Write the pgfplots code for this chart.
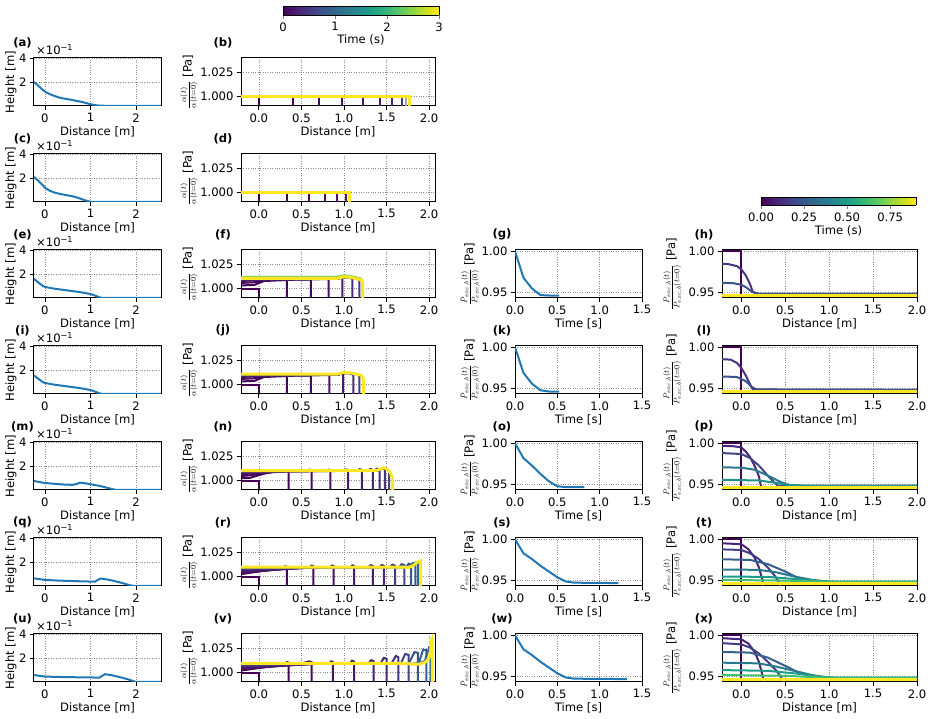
\documentclass[border=0pt]{standalone}
\usepackage{fontspec}
\setmainfont{DejaVu Sans}
\usepackage{pgfplots}
\pgfplotsset{compat=1.18}
\newcommand{\fs}{\fontsize{11.6}{13.9}\selectfont}
\definecolor{v00}{HTML}{440154}
\definecolor{v02}{HTML}{450559}
\definecolor{v04}{HTML}{46085C}
\definecolor{v05}{HTML}{471063}
\definecolor{v06}{HTML}{481769}
\definecolor{v08}{HTML}{481D6F}
\definecolor{v10}{HTML}{482475}
\definecolor{v12}{HTML}{472A7A}
\definecolor{v15}{HTML}{463480}
\definecolor{v18}{HTML}{433E85}
\definecolor{v20}{HTML}{414487}
\definecolor{v25}{HTML}{3B528B}
\definecolor{v30}{HTML}{355F8D}
\definecolor{v35}{HTML}{2F6C8E}
\definecolor{v40}{HTML}{2A788E}
\definecolor{v50}{HTML}{21918C}
\definecolor{v55}{HTML}{1E9C89}
\definecolor{v70}{HTML}{44BF70}
\definecolor{v80}{HTML}{7AD151}
\definecolor{v100}{HTML}{FDE725}
\definecolor{mplblue}{HTML}{1F77B4}
\pgfplotsset{
 pan/.style={scale only axis, height=48pt, anchor=south west, tick align=outside, tick pos=left,
   grid=major, major grid style={dotted, black!45, line width=0.6pt},
   axis line style={line width=1pt, black}, major tick length=4pt,
   every tick/.append style={line width=0.8pt, black},
   tick label style={font=\fs}, label style={font=\fs},
   /pgf/number format/assume math mode=true,
   xlabel style={at={(axis description cs:0.5,-0.535)}, anchor=center}},
 bl/.style={mplblue, line width=2pt},
 c1/.style={pan, width=127pt, xmin=-0.24, xmax=2.55, ymin=0, ymax=0.4, xtick={0,1,2}, ytick={0.2,0.4}, yticklabels={2,4},
   xlabel={Distance [m]}, ylabel={Height [m]}, ylabel style={at={(axis description cs:-0.181,0.5)}, anchor=center}},
 c2/.style={pan, width=194pt, xmin=-0.21, xmax=2.07, ymin=0.9903, ymax=1.0403, xtick={0,0.5,1,1.5,2}, ytick={1,1.025},
   xticklabel style={/pgf/number format/.cd, fixed, fixed zerofill, precision=1},
   yticklabel style={/pgf/number format/.cd, fixed, fixed zerofill, precision=3},
   xlabel={Distance [m]}, ylabel={$\frac{\alpha(t)}{\alpha(t=0)}$ [Pa]}, ylabel style={at={(axis description cs:-0.268,0.5)}, anchor=center},
   every axis plot/.append style={line width=2pt}},
 c3/.style={pan, width=127pt, xmin=0, xmax=1.5, ymin=0.9435, ymax=1.0015, xtick={0,0.5,1,1.5}, ytick={0.95,1},
   xticklabel style={/pgf/number format/.cd, fixed, fixed zerofill, precision=1},
   yticklabel style={/pgf/number format/.cd, fixed, fixed zerofill, precision=2},
   xlabel={Time [s]}, ylabel={$\frac{\bar{P}_{exc,b}(t)}{\bar{P}_{exc,b}(0)}$ [Pa]}, ylabel style={at={(axis description cs:-0.354,0.5)}, anchor=center}},
 c4/.style={pan, width=195pt, xmin=-0.22, xmax=2.0, ymin=0.9435, ymax=1.0015, xtick={0,0.5,1,1.5,2}, ytick={0.95,1},
   xticklabel style={/pgf/number format/.cd, fixed, fixed zerofill, precision=1},
   yticklabel style={/pgf/number format/.cd, fixed, fixed zerofill, precision=2},
   xlabel={Distance [m]}, ylabel={$\frac{P_{exc,b}(t)}{P_{exc,b}(t=0)}$ [Pa]}, ylabel style={at={(axis description cs:-0.254,0.5)}, anchor=center},
   every axis plot/.append style={line width=2pt}},
 cbar/.style={scale only axis, anchor=south west, view={0}{90}, ymin=0, ymax=1, ytick=\empty, ztick=\empty,
   colormap/viridis, axis on top, tick align=outside, xtick pos=left, major tick length=4pt,
   axis line style={line width=0.8pt}, tick label style={font=\fs}, label style={font=\fs},
   /pgf/number format/assume math mode=true, xlabel={Time (s)}}
}
\begin{document}
\begin{tikzpicture}
\path[use as bounding box] (0pt,0pt) rectangle (932pt,719pt);
% ---------- colorbars ----------
\begin{axis}[cbar, at={(283pt,704pt)}, width=156pt, height=9pt, xmin=0, xmax=3, xtick={0,1,2,3},
  xlabel style={at={(axis description cs:0.5,-2.78)}, anchor=center}]
\addplot3[surf, shader=interp, point meta=x] coordinates {(0,0,0) (0.5,0,0) (1,0,0) (1.5,0,0) (2,0,0) (2.5,0,0) (3,0,0)

(0,1,0) (0.5,1,0) (1,1,0) (1.5,1,0) (2,1,0) (2.5,1,0) (3,1,0)};
\end{axis}
\begin{axis}[cbar, at={(761pt,514pt)}, width=155pt, height=8pt, xmin=0, xmax=0.9, xtick={0,0.25,0.5,0.75},
  xticklabel style={/pgf/number format/.cd, fixed, fixed zerofill, precision=2},
  xlabel style={at={(axis description cs:0.5,-3.2)}, anchor=center}]
\addplot3[surf, shader=interp, point meta=x] coordinates {(0,0,0) (0.15,0,0) (0.3,0,0) (0.45,0,0) (0.6,0,0) (0.75,0,0) (0.9,0,0)

(0,1,0) (0.15,1,0) (0.3,1,0) (0.45,1,0) (0.6,1,0) (0.75,1,0) (0.9,1,0)};
\end{axis}
% ---------- column 1 ----------
\begin{axis}[c1, at={(34pt,613pt)}]
\addplot[bl] coordinates {(-0.24,0.20) (-0.15,0.17) (-0.05,0.135) (0,0.12) (0.1,0.10) (0.2,0.085) (0.3,0.072) (0.4,0.063) (0.5,0.057) (0.6,0.05) (0.7,0.042) (0.8,0.035) (0.9,0.025) (1.0,0.015) (1.1,0.007) (1.2,0.003) (1.4,0.001) (2.55,0)};
\end{axis}
\begin{axis}[c1, at={(34pt,517pt)}]
\addplot[bl] coordinates {(-0.24,0.21) (-0.1,0.16) (0,0.12) (0.1,0.095) (0.2,0.08) (0.3,0.07) (0.4,0.062) (0.5,0.055) (0.6,0.048) (0.7,0.038) (0.8,0.025) (0.9,0.012) (1.0,0.002) (1.05,0) (2.55,0)};
\end{axis}
\begin{axis}[c1, at={(34pt,421pt)}]
\addplot[bl] coordinates {(-0.24,0.16) (-0.15,0.13) (-0.05,0.102) (0,0.092) (0.2,0.078) (0.4,0.068) (0.6,0.058) (0.8,0.047) (1.0,0.033) (1.1,0.02) (1.2,0.006) (1.25,0) (2.55,0)};
\end{axis}
\begin{axis}[c1, at={(34pt,325pt)}]
\addplot[bl] coordinates {(-0.24,0.155) (-0.15,0.128) (-0.05,0.10) (0,0.092) (0.2,0.078) (0.4,0.068) (0.6,0.058) (0.8,0.047) (1.0,0.033) (1.1,0.02) (1.2,0.006) (1.25,0) (2.55,0)};
\end{axis}
\begin{axis}[c1, at={(34pt,229pt)}]
\addplot[bl] coordinates {(-0.24,0.075) (-0.1,0.065) (0,0.058) (0.2,0.052) (0.4,0.046) (0.6,0.043) (0.7,0.05) (0.77,0.061) (0.9,0.055) (1.0,0.048) (1.2,0.034) (1.35,0.02) (1.5,0.006) (1.57,0) (2.55,0)};
\end{axis}
\begin{axis}[c1, at={(34pt,133pt)}]
\addplot[bl] coordinates {(-0.24,0.064) (-0.1,0.056) (0,0.051) (0.3,0.045) (0.6,0.041) (0.9,0.038) (1.1,0.036) (1.15,0.048) (1.22,0.062) (1.35,0.055) (1.5,0.044) (1.7,0.025) (1.85,0.008) (1.95,0) (2.55,0)};
\end{axis}
\begin{axis}[c1, at={(34pt,37pt)}]
\addplot[bl] coordinates {(-0.24,0.058) (-0.1,0.05) (0,0.045) (0.3,0.042) (0.6,0.04) (0.9,0.038) (1.2,0.037) (1.25,0.05) (1.32,0.065) (1.45,0.058) (1.6,0.045) (1.8,0.025) (1.95,0.007) (2.0,0) (2.55,0)};
\end{axis}
% ---------- column 2 ----------
\begin{axis}[c2, at={(241pt,613pt)}]
\addplot[v00] coordinates {(-0.3,1) (0,1) (0,0.98)};
\addplot[v02] coordinates {(-0.3,1) (0.40,1) (0.40,0.98)};
\addplot[v04] coordinates {(-0.3,1) (0.71,1) (0.71,0.98)};
\addplot[v05] coordinates {(-0.3,1) (0.98,1) (0.98,0.98)};
\addplot[v06] coordinates {(-0.3,1) (1.22,1) (1.22,0.98)};
\addplot[v08] coordinates {(-0.3,1) (1.42,1) (1.42,0.98)};
\addplot[v12] coordinates {(-0.3,1) (1.57,1) (1.57,0.98)};
\addplot[v15] coordinates {(-0.3,1) (1.68,1) (1.68,0.98)};
\addplot[v20!50!white] coordinates {(-0.3,1) (1.73,1) (1.73,0.98)};
\addplot[v100, line width=3pt] coordinates {(-0.3,1) (1.77,1) (1.77,0.98)};
\end{axis}
\begin{axis}[c2, at={(241pt,517pt)}]
\addplot[v00] coordinates {(-0.3,1) (0,1) (0,0.98)};
\addplot[v02] coordinates {(-0.3,1) (0.33,1) (0.33,0.98)};
\addplot[v04] coordinates {(-0.3,1) (0.59,1) (0.59,0.98)};
\addplot[v05] coordinates {(-0.3,1) (0.78,1) (0.78,0.98)};
\addplot[v06] coordinates {(-0.3,1) (0.92,1) (0.92,0.98)};
\addplot[v08] coordinates {(-0.3,1) (1.02,1) (1.02,0.98)};
\addplot[v100, line width=3pt] coordinates {(-0.3,1) (1.06,1) (1.06,0.98)};
\end{axis}
\begin{axis}[c2, at={(241pt,421pt)}]
\addplot[v00] coordinates {(-0.3,1) (0,1) (0,0.98)};
\addplot[v02] coordinates {(-0.3,1.003) (-0.05,1.004) (0.06,1.008) (0.33,1.009) (0.33,0.98)};
\addplot[v04] coordinates {(-0.3,1.0055) (0.0,1.007) (0.1,1.009) (0.61,1.0095) (0.61,0.98)};
\addplot[v05] coordinates {(-0.3,1.0075) (0.1,1.0095) (0.82,1.0100) (0.82,0.98)};
\addplot[v06] coordinates {(-0.3,1.009) (0.2,1.0098) (0.93,1.0102) (0.96,1.0115) (0.98,1.011) (0.98,0.98)};
\addplot[v12] coordinates {(-0.3,1.0095) (0.9,1.0102) (0.97,1.0115) (1.05,1.0115) (1.1,1.0105) (1.1,0.98)};
\addplot[v18] coordinates {(-0.3,1.0098) (0.93,1.0102) (1.0,1.0125) (1.06,1.012) (1.15,1.0105) (1.18,1.009) (1.18,0.98)};
\addplot[v80] coordinates {(-0.3,1.0122) (0.9,1.0122) (1.0,1.0138) (1.06,1.0133) (1.14,1.012) (1.2,1.0105) (1.22,1.007) (1.22,0.98)};
\addplot[v100, line width=3pt] coordinates {(-0.3,1.0107) (0.92,1.0107) (1.0,1.0124) (1.06,1.012) (1.14,1.0107) (1.19,1.0097) (1.215,1.007) (1.22,1.002) (1.22,0.98)};
\end{axis}
\begin{axis}[c2, at={(241pt,325pt)}]
\addplot[v00] coordinates {(-0.3,1) (0,1) (0,0.98)};
\addplot[v02] coordinates {(-0.3,1.003) (-0.05,1.004) (0.06,1.008) (0.33,1.009) (0.33,0.98)};
\addplot[v04] coordinates {(-0.3,1.0055) (0.0,1.007) (0.1,1.009) (0.61,1.0095) (0.61,0.98)};
\addplot[v05] coordinates {(-0.3,1.0075) (0.1,1.0095) (0.83,1.0100) (0.83,0.98)};
\addplot[v06] coordinates {(-0.3,1.009) (0.2,1.0098) (0.94,1.0102) (0.97,1.0118) (0.99,1.011) (0.99,0.98)};
\addplot[v12] coordinates {(-0.3,1.0095) (0.9,1.0102) (0.98,1.012) (1.06,1.0118) (1.11,1.0105) (1.11,0.98)};
\addplot[v18] coordinates {(-0.3,1.0098) (0.93,1.0102) (1.0,1.0128) (1.06,1.0125) (1.15,1.0108) (1.18,1.009) (1.18,0.98)};
\addplot[v100, line width=3pt] coordinates {(-0.3,1.011) (0.92,1.011) (1.0,1.0128) (1.07,1.0124) (1.15,1.011) (1.2,1.0098) (1.225,1.007) (1.23,1.002) (1.23,0.98)};
\end{axis}
\begin{axis}[c2, at={(241pt,229pt)}]
\addplot[v00] coordinates {(-0.3,1) (0,1) (0,0.98)};
\addplot[v02] coordinates {(-0.3,1.002) (-0.1,1.003) (0.1,1.0085) (0.3,1.0095) (0.33,1.011) (0.35,1.0103) (0.35,0.98)};
\addplot[v04] coordinates {(-0.3,1.004) (0.0,1.0065) (0.2,1.0095) (0.57,1.0100) (0.595,1.0115) (0.62,1.011) (0.62,0.98)};
\addplot[v05] coordinates {(-0.3,1.006) (0.2,1.0095) (0.79,1.0100) (0.815,1.0115) (0.84,1.011) (0.84,0.98)};
\addplot[v06] coordinates {(-0.3,1.0075) (0.3,1.0100) (1.0,1.0102) (1.025,1.0117) (1.05,1.011) (1.05,0.98)};
\addplot[v08] coordinates {(-0.3,1.0085) (0.4,1.0102) (1.16,1.0103) (1.185,1.012) (1.21,1.0112) (1.21,0.98)};
\addplot[v10] coordinates {(-0.3,1.009) (0.5,1.0102) (1.28,1.0103) (1.31,1.0122) (1.34,1.0112) (1.34,0.98)};
\addplot[v12] coordinates {(-0.3,1.0095) (1.35,1.0103) (1.39,1.0125) (1.42,1.0115) (1.42,0.98)};
\addplot[v15] coordinates {(-0.3,1.0098) (1.4,1.0103) (1.45,1.013) (1.48,1.012) (1.48,0.98)};
\addplot[v20] coordinates {(-0.3,1.0100) (1.4,1.0103) (1.46,1.013) (1.5,1.012) (1.53,1.01) (1.53,0.98)};
\addplot[v100, line width=3pt] coordinates {(-0.3,1.0105) (1.35,1.0105) (1.4,1.011) (1.46,1.0135) (1.5,1.0125) (1.54,1.009) (1.565,1.004) (1.57,1.0) (1.57,0.98)};
\end{axis}
\begin{axis}[c2, at={(241pt,133pt)}]
\addplot[v00] coordinates {(-0.3,1) (0,1) (0,0.98)};
\addplot[v02] coordinates {(-0.3,1.0015) (0.28,1.009) (0.31,1.0108) (0.33,1.0103) (0.33,0.98)};
\addplot[v04] coordinates {(-0.3,1.003) (0.45,1.0095) (0.60,1.0100) (0.62,1.0115) (0.64,1.011) (0.64,0.98)};
\addplot[v05] coordinates {(-0.3,1.004) (0.6,1.0098) (0.84,1.0100) (0.86,1.0117) (0.88,1.011) (0.88,0.98)};
\addplot[v06] coordinates {(-0.3,1.005) (0.7,1.0099) (1.08,1.0100) (1.10,1.0118) (1.12,1.011) (1.12,0.98)};
\addplot[v08] coordinates {(-0.3,1.006) (0.8,1.01) (1.29,1.0100) (1.315,1.012) (1.34,1.0112) (1.34,0.98)};
\addplot[v10] coordinates {(-0.3,1.007) (0.85,1.01) (1.42,1.0100) (1.445,1.0122) (1.47,1.0113) (1.47,0.98)};
\addplot[v15] coordinates {(-0.3,1.0078) (0.9,1.01) (1.54,1.0100) (1.57,1.0125) (1.60,1.0115) (1.60,0.98)};
\addplot[v20] coordinates {(-0.3,1.0085) (1.0,1.01) (1.65,1.0100) (1.68,1.013) (1.71,1.012) (1.71,0.98)};
\addplot[v25] coordinates {(-0.3,1.009) (1.0,1.01) (1.73,1.0100) (1.76,1.0135) (1.79,1.0125) (1.79,0.98)};
\addplot[v30] coordinates {(-0.3,1.0095) (1.0,1.01) (1.76,1.0098) (1.81,1.014) (1.84,1.0135) (1.84,0.98)};
\addplot[v35] coordinates {(-0.3,1.0098) (1.76,1.0098) (1.83,1.0145) (1.87,1.015) (1.87,0.98)};
\addplot[v100, line width=3pt] coordinates {(-0.3,1.0100) (1.70,1.0100) (1.76,1.0095) (1.82,1.012) (1.87,1.0155) (1.90,1.0165) (1.90,0.98)};
\end{axis}
\begin{axis}[c2, at={(241pt,37pt)}]
\addplot[v00] coordinates {(-0.3,1) (0,1) (0,0.98)};
\addplot[v02] coordinates {(-0.3,1.001) (0.3,1.0088) (0.33,1.0110) (0.35,1.0105) (0.35,0.98)};
\addplot[v04] coordinates {(-0.3,1.0025) (0.5,1.0095) (0.59,1.0118) (0.62,1.011) (0.62,0.98)};
\addplot[v05] coordinates {(-0.3,1.0035) (0.7,1.0098) (0.83,1.0098) (0.85,1.0118) (0.87,1.011) (0.87,0.98)};
\addplot[v06] coordinates {(-0.3,1.0045) (0.8,1.0098) (1.07,1.0098) (1.095,1.0125) (1.12,1.0115) (1.12,0.98)};
\addplot[v08] coordinates {(-0.3,1.0055) (0.85,1.0098) (1.29,1.0098) (1.32,1.013) (1.35,1.012) (1.35,0.98)};
\addplot[v10] coordinates {(-0.3,1.0065) (0.9,1.0098) (1.43,1.0098) (1.47,1.0155) (1.50,1.0145) (1.50,0.98)};
\addplot[v15] coordinates {(-0.3,1.0072) (0.9,1.0098) (1.56,1.0098) (1.61,1.0175) (1.64,1.016) (1.64,0.98)};
\addplot[v20] coordinates {(-0.3,1.008) (1.0,1.0098) (1.67,1.0098) (1.72,1.0195) (1.76,1.0185) (1.76,0.98)};
\addplot[v25] coordinates {(-0.3,1.0087) (1.0,1.0098) (1.76,1.0095) (1.83,1.0215) (1.87,1.0205) (1.87,0.98)};
\addplot[v30] coordinates {(-0.3,1.0092) (1.0,1.0098) (1.82,1.0095) (1.88,1.010) (1.93,1.024) (1.97,1.0235) (1.97,0.98)};
\addplot[v35] coordinates {(-0.3,1.0095) (1.0,1.0098) (1.85,1.009) (1.95,1.012) (2.0,1.026) (2.02,1.024) (2.02,0.98)};
\addplot[v100, line width=3pt] coordinates {(-0.3,1.0098) (1.70,1.0098) (1.80,1.009) (1.88,1.0088) (1.95,1.0105) (1.99,1.014) (2.015,1.02) (2.03,1.034) (2.035,1.035) (2.04,1.03) (2.04,0.98)};
\end{axis}
% ---------- column 3 ----------
\begin{axis}[c3, at={(515pt,421pt)}]
\addplot[bl] coordinates {(0,1.0) (0.1,0.968) (0.2,0.955) (0.3,0.947) (0.4,0.9465) (0.52,0.9465)};
\end{axis}
\begin{axis}[c3, at={(515pt,325pt)}]
\addplot[bl] coordinates {(0,1.0) (0.1,0.969) (0.2,0.956) (0.3,0.948) (0.4,0.9465) (0.52,0.9465)};
\end{axis}
\begin{axis}[c3, at={(515pt,229pt)}]
\addplot[bl] coordinates {(0,1.0) (0.1,0.982) (0.2,0.973) (0.3,0.963) (0.4,0.954) (0.5,0.948) (0.6,0.947) (0.82,0.947)};
\end{axis}
\begin{axis}[c3, at={(515pt,133pt)}]
\addplot[bl] coordinates {(0,1.0) (0.1,0.983) (0.2,0.976) (0.3,0.968) (0.4,0.961) (0.5,0.954) (0.6,0.949) (0.7,0.9475) (1.22,0.947)};
\end{axis}
\begin{axis}[c3, at={(515pt,37pt)}]
\addplot[bl] coordinates {(0,1.0) (0.1,0.983) (0.2,0.976) (0.3,0.968) (0.4,0.961) (0.5,0.954) (0.6,0.949) (0.7,0.9475) (1.32,0.947)};
\end{axis}
% ---------- column 4 ----------
\begin{axis}[c4, at={(722pt,421pt)}]
\addplot[v00] coordinates {(-0.3,1.0) (0,1.0) (0,0.94)};
\addplot[v15] coordinates {(-0.3,0.985) (-0.15,0.9845) (-0.05,0.982) (0,0.978) (0.05,0.971) (0.1,0.96) (0.13,0.951) (0.18,0.9485) (2.1,0.9485)};
\addplot[v25] coordinates {(-0.3,0.962) (-0.1,0.9615) (0,0.9595) (0.06,0.956) (0.12,0.951) (0.2,0.9485) (2.1,0.9485)};
\addplot[v100, line width=3pt] coordinates {(-0.3,0.9467) (2.1,0.9467)};
\end{axis}
\begin{axis}[c4, at={(722pt,325pt)}]
\addplot[v00] coordinates {(-0.3,1.0) (0,1.0) (0,0.94)};
\addplot[v15] coordinates {(-0.3,0.986) (-0.12,0.985) (-0.05,0.981) (0,0.975) (0.05,0.966) (0.1,0.955) (0.13,0.949) (2.1,0.9485)};
\addplot[v25] coordinates {(-0.3,0.965) (-0.05,0.964) (0.05,0.959) (0.12,0.952) (0.18,0.9485) (2.1,0.9485)};
\addplot[v100, line width=3pt] coordinates {(-0.3,0.9467) (2.1,0.9467)};
\end{axis}
\begin{axis}[c4, at={(722pt,229pt)}]
\addplot[v00] coordinates {(-0.3,1.0) (0,1.0) (0,0.94)};
\addplot[v10] coordinates {(-0.3,0.997) (-0.1,0.9965) (0,0.995) (0.05,0.99) (0.1,0.983) (0.15,0.973) (0.2,0.96) (0.23,0.945) (0.24,0.94)};
\addplot[v20] coordinates {(-0.3,0.9885) (0,0.987) (0.1,0.982) (0.2,0.973) (0.3,0.961) (0.38,0.952) (0.42,0.9485) (2.1,0.9485)};
\addplot[v40] coordinates {(-0.3,0.971) (0,0.9705) (0.15,0.968) (0.3,0.961) (0.45,0.953) (0.55,0.9495) (0.7,0.9485) (2.1,0.9485)};
\addplot[v50] coordinates {(-0.3,0.956) (0.2,0.955) (0.4,0.952) (0.55,0.9495) (0.75,0.9485) (2.1,0.9485)};
\addplot[v100, line width=3pt] coordinates {(-0.3,0.9467) (2.1,0.9467)};
\end{axis}
\begin{axis}[c4, at={(722pt,133pt)}]
\addplot[v00] coordinates {(-0.3,1.0) (0,1.0) (0,0.94)};
\addplot[v10] coordinates {(-0.3,0.9955) (0,0.994) (0.08,0.988) (0.15,0.978) (0.2,0.966) (0.24,0.951) (0.25,0.94)};
\addplot[v18] coordinates {(-0.3,0.988) (0,0.987) (0.1,0.983) (0.2,0.976) (0.3,0.966) (0.38,0.956) (0.44,0.946) (0.45,0.94)};
\addplot[v30] coordinates {(-0.3,0.976) (0.1,0.975) (0.3,0.970) (0.5,0.961) (0.65,0.953) (0.8,0.9495) (1.0,0.9485) (2.1,0.9485)};
\addplot[v40] coordinates {(-0.3,0.9635) (0.2,0.963) (0.4,0.960) (0.6,0.955) (0.8,0.951) (1.0,0.9485) (2.1,0.9485)};
\addplot[v55] coordinates {(-0.3,0.955) (0.3,0.9545) (0.6,0.952) (0.9,0.9495) (1.1,0.9485) (2.1,0.9485)};
\addplot[v70] coordinates {(-0.3,0.951) (0.5,0.950) (1.0,0.9485) (2.1,0.9485)};
\addplot[v100, line width=3pt] coordinates {(-0.3,0.9467) (2.1,0.9467)};
\end{axis}
\begin{axis}[c4, at={(722pt,37pt)}]
\addplot[v00] coordinates {(-0.3,1.0) (0,1.0) (0,0.94)};
\addplot[v10] coordinates {(-0.3,0.997) (0,0.995) (0.08,0.99) (0.15,0.98) (0.2,0.968) (0.24,0.952) (0.26,0.94)};
\addplot[v18] coordinates {(-0.3,0.991) (0,0.989) (0.1,0.985) (0.2,0.978) (0.3,0.968) (0.4,0.957) (0.46,0.948) (0.5,0.94)};
\addplot[v30] coordinates {(-0.3,0.980) (0.1,0.979) (0.3,0.973) (0.5,0.963) (0.65,0.955) (0.8,0.9505) (1.0,0.9485) (2.1,0.9485)};
\addplot[v40] coordinates {(-0.3,0.967) (0.2,0.966) (0.4,0.962) (0.6,0.957) (0.8,0.952) (1.0,0.9485) (2.1,0.9485)};
\addplot[v55] coordinates {(-0.3,0.958) (0.3,0.957) (0.6,0.954) (0.9,0.950) (1.1,0.9485) (2.1,0.9485)};
\addplot[v70] coordinates {(-0.3,0.952) (0.5,0.951) (1.0,0.9485) (2.1,0.9485)};
\addplot[v100, line width=3pt] coordinates {(-0.3,0.9467) (2.1,0.9467)};
\end{axis}
% ---------- panel labels ----------
\begin{scope}[every node/.style={font=\bfseries\fs, inner sep=0pt}]
\node at (22.5pt,676.5pt) {(a)}; \node at (223pt,676.5pt) {(b)};
\node at (22.5pt,580.5pt) {(c)}; \node at (223pt,580.5pt) {(d)};
\node at (22.5pt,484.5pt) {(e)}; \node at (223pt,484.5pt) {(f)}; \node at (502pt,484.5pt) {(g)}; \node at (704pt,484.5pt) {(h)};
\node at (22.5pt,388.5pt) {(i)}; \node at (223pt,388.5pt) {(j)}; \node at (502pt,388.5pt) {(k)}; \node at (704pt,388.5pt) {(l)};
\node at (22.5pt,292.5pt) {(m)}; \node at (223pt,292.5pt) {(n)}; \node at (502pt,292.5pt) {(o)}; \node at (704pt,292.5pt) {(p)};
\node at (22.5pt,196.5pt) {(q)}; \node at (223pt,196.5pt) {(r)}; \node at (502pt,196.5pt) {(s)}; \node at (704pt,196.5pt) {(t)};
\node at (22.5pt,100.5pt) {(u)}; \node at (223pt,100.5pt) {(v)}; \node at (502pt,100.5pt) {(w)}; \node at (704pt,100.5pt) {(x)};
\end{scope}
\begin{scope}[every node/.style={font=\fs, inner sep=0pt, anchor=west}]
\foreach \yy in {669.5,573.5,477.5,381.5,285.5,189.5,93.5} {\node at (36pt,\yy pt) {×10\textsuperscript{−1}};}
\end{scope}
\end{tikzpicture}
\end{document}
